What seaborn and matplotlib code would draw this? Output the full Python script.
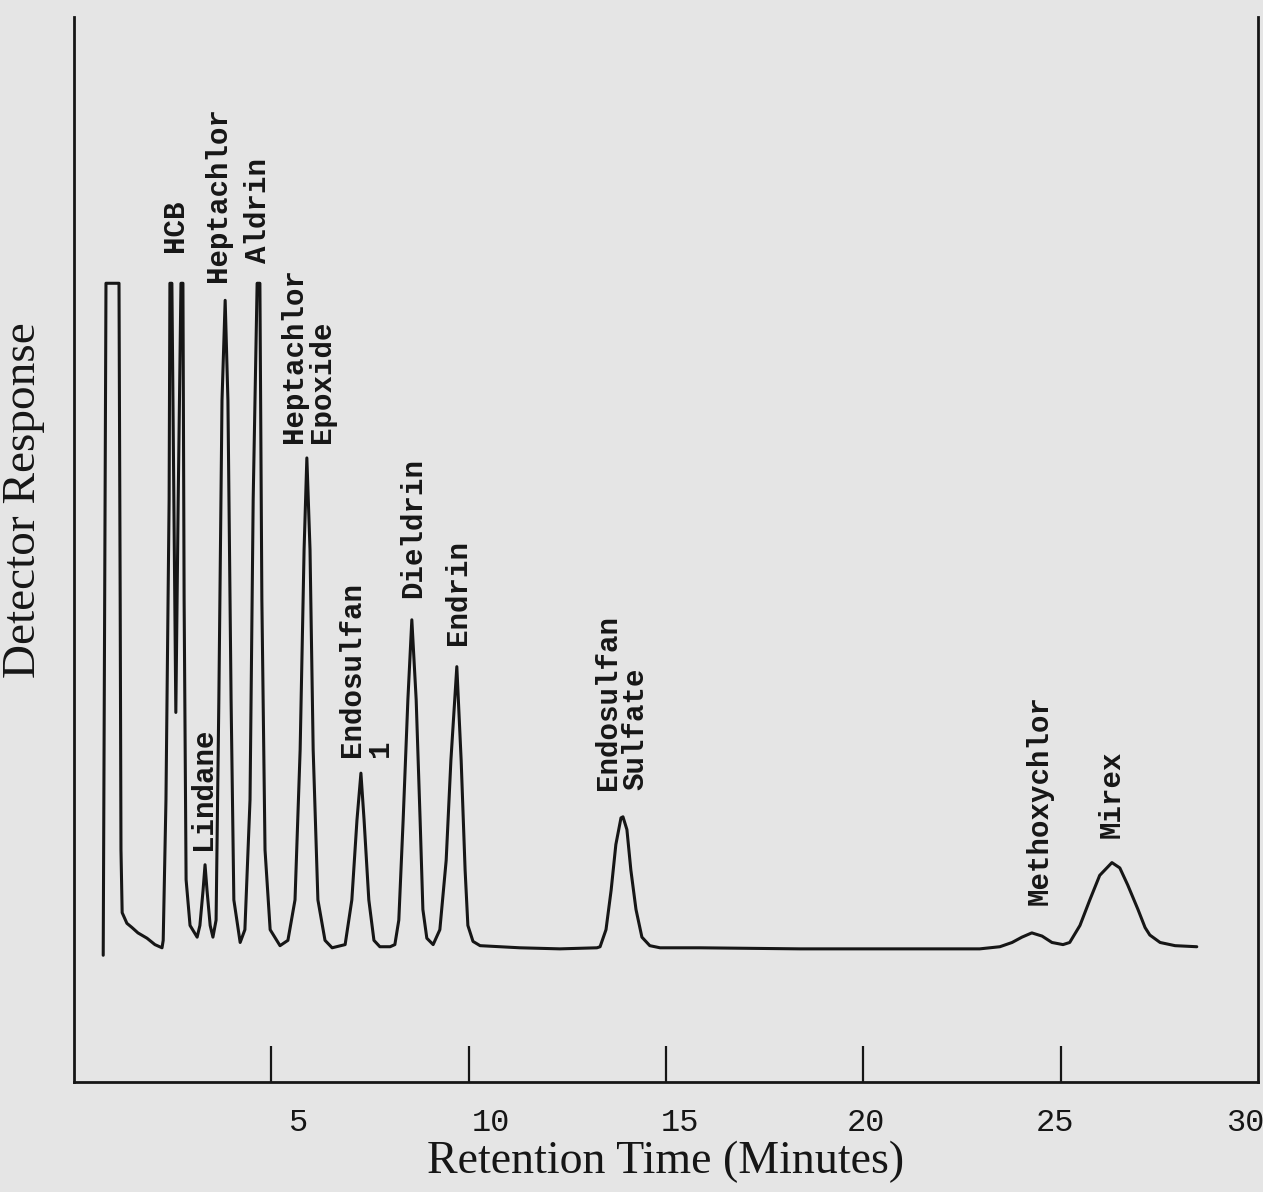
import pandas as pd
import seaborn as sns
import matplotlib.pyplot as plt

# chromatogram trace (time in minutes, response in arbitrary units)
trace_time = [0.74, 0.81, 1.14, 1.17, 1.19, 1.22, 1.34, 1.47, 1.62, 1.85, 2.05, 2.23,
              2.26, 2.33, 2.41, 2.43, 2.48, 2.53, 2.58, 2.64, 2.71, 2.76, 2.79, 2.84, 2.94, 3.12,
              3.19, 3.27, 3.32, 3.37, 3.45, 3.52,
              3.60, 3.67, 3.75, 3.83, 3.90, 3.98, 4.05, 4.21,
              4.33, 4.46, 4.54, 4.64, 4.71, 4.76, 4.84, 4.97, 5.22,
              5.42, 5.60, 5.73, 5.83, 5.90, 5.98, 6.06, 6.18, 6.36, 6.54,
              6.87, 7.04, 7.17, 7.27, 7.35, 7.47, 7.60, 7.75, 8.01,
              8.13, 8.23, 8.34, 8.46, 8.56, 8.67, 8.77, 8.84, 8.94, 9.10,
              9.27, 9.43, 9.55, 9.70, 9.81, 9.91, 9.98, 10.11, 10.29,
              11.30, 12.31, 13.25,
              13.33, 13.48, 13.61, 13.73, 13.86, 13.91, 14.01, 14.11, 14.24, 14.39, 14.59, 14.85,
              15.86, 18.39, 20.93, 22.95,
              23.46, 23.77, 24.02, 24.27, 24.53, 24.78, 25.06,
              25.23, 25.49, 25.74, 25.99, 26.30, 26.50, 26.70, 26.96, 27.14, 27.26, 27.52, 27.90, 28.45]
trace_resp = [11.9, 75.0, 75.0, 45.3, 21.8, 15.9, 14.9, 14.5, 14.0, 13.5, 12.9, 12.6,
              13.3, 26.5, 54.7, 75.0, 75.0, 54.7, 34.7, 54.7, 75.0, 75.0, 45.3, 19.0, 14.7, 13.6,
              14.7, 18.0, 20.4, 18.0, 14.7, 13.6,
              15.2, 35.9, 64.0, 73.4, 64.0, 35.9, 17.1, 13.1,
              14.3, 26.5, 54.7, 75.0, 75.0, 45.3, 21.8, 14.3, 12.8,
              13.3, 17.1, 31.2, 50.0, 58.6, 50.0, 31.2, 17.1, 13.3, 12.6,
              12.9, 17.1, 24.6, 29.0, 24.6, 17.1, 13.3, 12.7, 12.7,
              12.9, 15.2, 24.6, 35.9, 43.4, 35.9, 24.6, 16.2, 13.5, 12.9,
              14.3, 20.8, 30.2, 39.0, 30.2, 19.9, 14.7, 13.2, 12.8,
              12.6, 12.5, 12.6,
              12.7, 14.3, 18.0, 22.3, 24.8, 24.9, 23.7, 19.9, 16.2, 13.6, 12.8, 12.6,
              12.6, 12.5, 12.5, 12.5,
              12.7, 13.1, 13.6, 14.0, 13.7, 13.1, 12.9,
              13.1, 14.7, 17.1, 19.4, 20.6, 20.1, 18.5, 16.2, 14.5, 13.8, 13.1, 12.8, 12.7]

# peak labels
peak_names = ["Lindane", "HCB", "Heptachlor", "Aldrin", "Heptachlor\nEpoxide",
              "Endosulfan\n1", "Dieldrin", "Endrin", "Endosulfan\nSulfate",
              "Methoxychlor", "Mirex"]
label_time = [3.27, 2.56, 3.65, 4.66, 5.93, 7.40, 8.59, 9.73, 13.88, 24.47, 26.30]
label_base = [21.8, 77.9, 75.1, 76.9, 60.0, 30.5, 45.4, 41.0, 27.4, 16.6, 22.9]

tick_times = [5, 10, 15, 20, 25]
tick_label_pos = [5.68, 10.56, 15.35, 20.07, 24.85, 29.67]
tick_labels = ["5", "10", "15", "20", "25", "30"]

bg = "#e5e5e5"
ink = "#161616"

sns.set_theme(style="white")

fig = plt.figure(figsize=(12.63, 11.92), dpi=100)
fig.patch.set_facecolor(bg)
ax = fig.add_axes([0.0586, 0.0923, 0.9374, 0.8934])
ax.set_facecolor(bg)

df = pd.DataFrame({"time": trace_time, "response": trace_resp})
sns.lineplot(data=df, x="time", y="response", sort=False, estimator=None,
             color=ink, lw=2.2, ax=ax)

for name, t, y in zip(peak_names, label_time, label_base):
    ax.text(t, y, name, rotation=90, ha="center", va="bottom", multialignment="left",
            family="Liberation Mono", weight="bold", fontsize=21, linespacing=1.0, color=ink)

ax.set_xlim(0, 30)
ax.set_ylim(0, 100)
ax.set_yticks([])
ax.set_xticks(tick_times, labels=[""] * len(tick_times))
ax.set_xticks(tick_label_pos, labels=tick_labels, minor=True)
ax.tick_params(axis="x", which="major", bottom=True, direction="in", length=26,
               width=1.6, colors=ink)
ax.tick_params(axis="x", which="minor", bottom=True, length=0, pad=19,
               labelsize=23, labelcolor=ink)
for lab in ax.get_xticklabels(minor=True):
    lab.set_fontfamily("Liberation Mono")

for side in ["left", "right", "bottom"]:
    ax.spines[side].set_visible(True)
    ax.spines[side].set_color(ink)
    ax.spines[side].set_linewidth(2.0)
ax.spines["top"].set_visible(False)

ax.set_xlabel("Retention Time (Minutes)", family="Liberation Serif", fontsize=33, color=ink)
ax.set_ylabel("Detector Response", family="Liberation Serif", fontsize=34, color=ink)
ax.xaxis.set_label_coords(0.5, -0.0554)
ax.yaxis.set_label_coords(-0.0245, 0.546)

fig.savefig("out.png", dpi=100, facecolor=bg)
